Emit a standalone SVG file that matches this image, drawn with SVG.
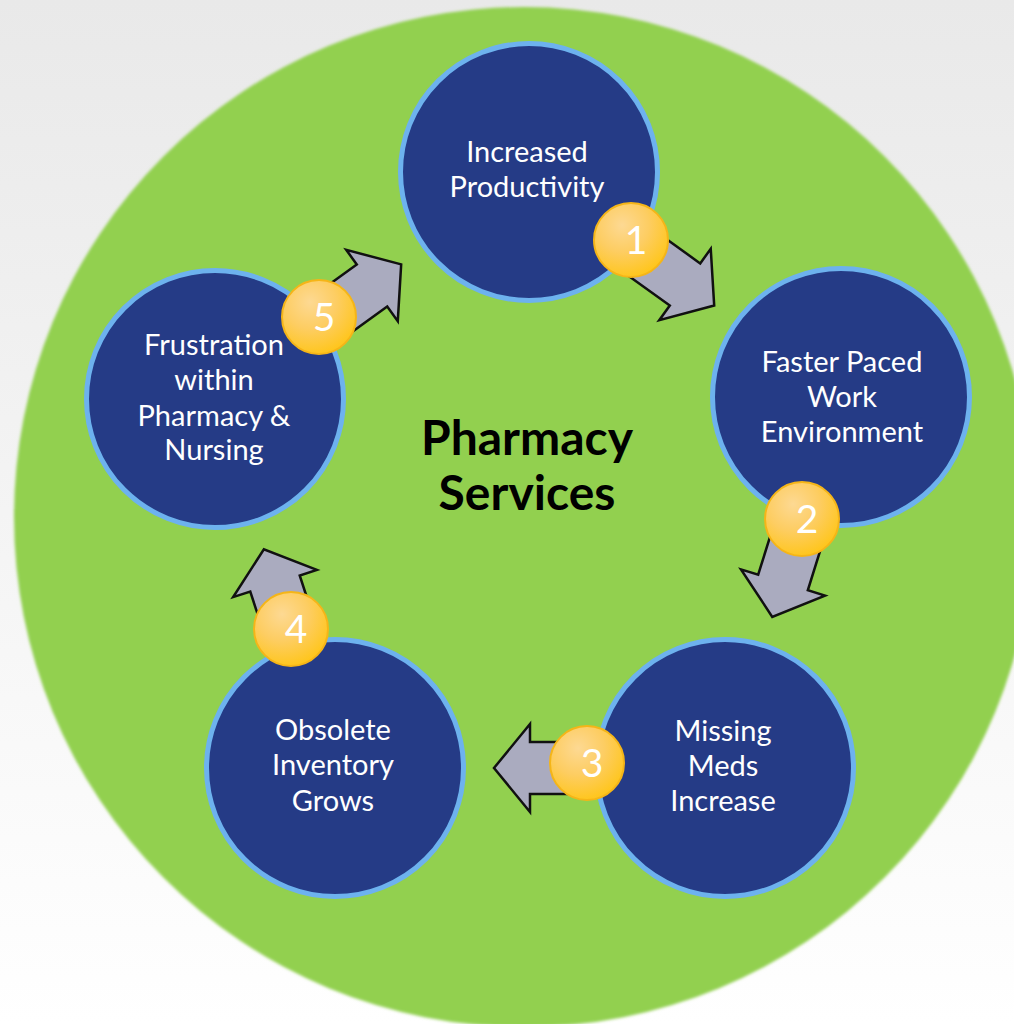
<svg xmlns="http://www.w3.org/2000/svg" xmlns:xlink="http://www.w3.org/1999/xlink" width="1014" height="1024" viewBox="0 0 1014 1024">
  <defs>
    <linearGradient id="bg" x1="0" y1="0" x2="0" y2="1">
      <stop offset="0" stop-color="#e9e9e9"/>
      <stop offset="1" stop-color="#ffffff"/>
    </linearGradient>
    <radialGradient id="gold" cx="0.38" cy="0.3" r="0.8">
      <stop offset="0" stop-color="#fdd993"/>
      <stop offset="0.45" stop-color="#fdcd62"/>
      <stop offset="1" stop-color="#ffc40c"/>
    </radialGradient>
    <filter id="soft" x="-5%" y="-5%" width="110%" height="110%">
      <feGaussianBlur stdDeviation="1.5"/>
    </filter>
    <path id="arrow" d="M -70 -26 L 0 -26 L 0 -44 L 36 0 L 0 44 L 0 26 L -70 26 Z"/>
    <style>
      .node circle { fill: #253b86; stroke: #6db2ee; stroke-width: 5; }
      .node text { fill: #ffffff; font-family: Lato, "Liberation Sans", sans-serif; font-size: 29px; text-anchor: middle; }
      .badge circle { fill: url(#gold); stroke: #f5b518; stroke-width: 2; }
      .badge text { fill: #ffffff; font-family: Lato, "Liberation Sans", sans-serif; font-size: 39px; text-anchor: middle; }
      .conn use { fill: #aaabbf; stroke: #111111; stroke-width: 2.5; stroke-linejoin: miter; }
      .title { fill: #000000; font-family: Lato, "Liberation Sans", sans-serif; font-weight: bold; font-size: 48px; text-anchor: middle; }
    </style>
  </defs>

  <rect x="0" y="0" width="1014" height="1024" fill="url(#bg)"/>
  <circle id="hub" cx="524" cy="517" r="510" fill="#92d050" filter="url(#soft)"/>

  <g id="center-label">
    <text class="title" x="527" y="455">Pharmacy</text>
    <text class="title" x="527" y="510">Services</text>
  </g>

  <g id="node-1" class="node">
    <circle cx="529" cy="172" r="128.5"/>
    <text x="527" y="162">Increased</text>
    <text x="527" y="197">Productivity</text>
  </g>
  <g id="node-2" class="node">
    <circle cx="841" cy="397" r="128.5"/>
    <text x="842" y="372">Faster Paced</text>
    <text x="842" y="407">Work</text>
    <text x="842" y="442">Environment</text>
  </g>
  <g id="node-3" class="node">
    <circle cx="725" cy="768" r="128.5"/>
    <text x="723" y="741">Missing</text>
    <text x="723" y="776">Meds</text>
    <text x="723" y="811">Increase</text>
  </g>
  <g id="node-4" class="node">
    <circle cx="335" cy="768" r="128.5"/>
    <text x="333" y="740">Obsolete</text>
    <text x="333" y="775">Inventory</text>
    <text x="333" y="811">Grows</text>
  </g>
  <g id="node-5" class="node">
    <circle cx="215" cy="399" r="128.5"/>
    <text x="214" y="355">Frustration</text>
    <text x="214" y="390">within</text>
    <text x="214" y="426">Pharmacy &amp;</text>
    <text x="214" y="460">Nursing</text>
  </g>

  <g id="connectors" class="conn">
    <use xlink:href="#arrow" href="#arrow" transform="translate(685 284.5) rotate(35.8)"/>
    <use xlink:href="#arrow" href="#arrow" transform="translate(783 582.5) rotate(107.36)"/>
    <use xlink:href="#arrow" href="#arrow" transform="translate(530 768) rotate(180)"/>
    <use xlink:href="#arrow" href="#arrow" transform="translate(275 583.5) rotate(-108)"/>
    <use xlink:href="#arrow" href="#arrow" transform="translate(372 285.5) rotate(-35.86)"/>
  </g>

  <g id="badge-1" class="badge">
    <circle cx="631" cy="240" r="37"/>
    <text x="636" y="254">1</text>
  </g>
  <g id="badge-2" class="badge">
    <circle cx="802" cy="519" r="37"/>
    <text x="807" y="533">2</text>
  </g>
  <g id="badge-3" class="badge">
    <circle cx="587" cy="763" r="37"/>
    <text x="592" y="777">3</text>
  </g>
  <g id="badge-4" class="badge">
    <circle cx="291" cy="629" r="37"/>
    <text x="296" y="643">4</text>
  </g>
  <g id="badge-5" class="badge">
    <circle cx="319" cy="317" r="37"/>
    <text x="324" y="331">5</text>
  </g>
</svg>
